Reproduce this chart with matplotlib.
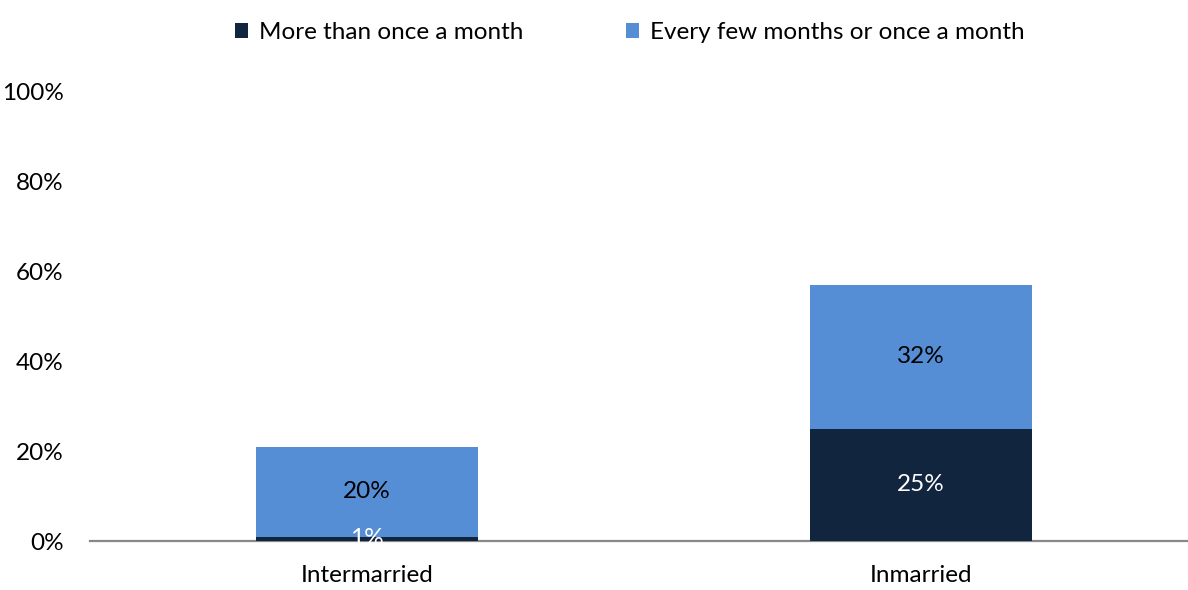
import matplotlib.pyplot as plt

categories = ["Intermarried", "Inmarried"]
more_than_monthly = [1, 25]
few_months_or_monthly = [20, 32]
series_labels = ["More than once a month", "Every few months or once a month"]
yticks = [0, 20, 40, 60, 80, 100]

dark = "#12253f"
blue = "#558ed5"

plt.rcParams['font.family'] = ['Lato', 'DejaVu Sans']
fs = 17.5

fig = plt.figure(figsize=(11.88, 5.9), dpi=100)
ax = fig.add_axes([90 / 1188, 49 / 590, 1098 / 1188, 450 / 590])

x = list(range(len(categories)))
w = 0.4
b1 = ax.bar(x, more_than_monthly, w, color=dark, label=series_labels[0])
b2 = ax.bar(x, few_months_or_monthly, w, bottom=more_than_monthly, color=blue,
            label=series_labels[1])

for i in x:
    ax.text(i, more_than_monthly[i] / 2, f"{more_than_monthly[i]}%", ha="center",
            va="center", color="white", fontsize=fs)
    ax.text(i, more_than_monthly[i] + few_months_or_monthly[i] / 2,
            f"{few_months_or_monthly[i]}%", ha="center", va="center",
            color="black", fontsize=fs)

ax.set_xlim(-0.5, 1.482)
ax.set_ylim(0, 100)
ax.set_yticks(yticks)
ax.set_yticklabels([f"{t}%" for t in yticks], fontsize=fs)
ax.set_xticks(x)
ax.set_xticklabels(categories, fontsize=fs)
ax.tick_params(length=0, axis="y", pad=19)
ax.tick_params(length=0, axis="x", pad=17)
for s in ["top", "right", "left"]:
    ax.spines[s].set_visible(False)
ax.spines["bottom"].set_color("#888888")
ax.spines["bottom"].set_linewidth(1.6)
ax.spines["bottom"].set_zorder(0.5)

fig.legend(handles=[b1, b2], loc="upper center", bbox_to_anchor=(0.53, 1.0),
           ncol=2, frameon=False, fontsize=fs, handlelength=0.55, handleheight=0.55,
           columnspacing=4.2, handletextpad=0.45)

fig.savefig("out.png", dpi=100)
